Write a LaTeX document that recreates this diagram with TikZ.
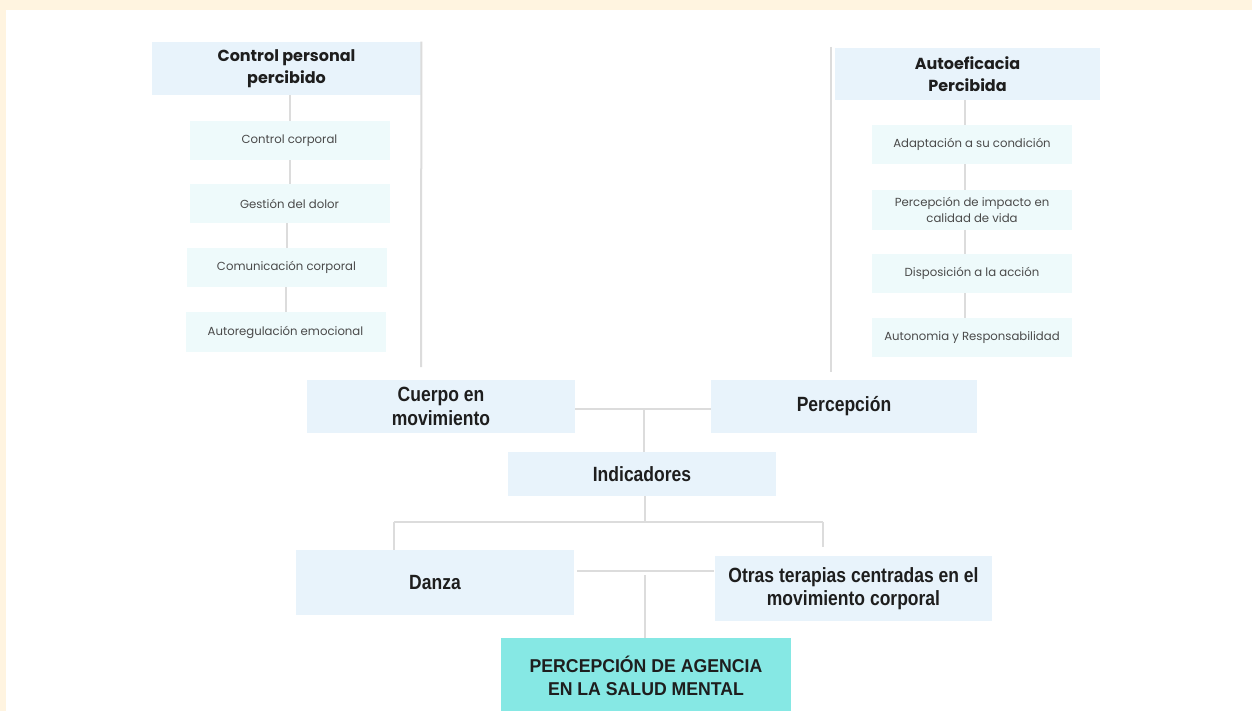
\documentclass[tikz,border=0pt]{standalone}
\usepackage{fontspec}
\setmainfont{Poppins}
\newfontfamily\condf[FakeStretch=0.85]{Liberation Sans}
\newfontfamily\capf[FakeStretch=0.95]{Liberation Sans}
\newfontfamily\popf{Poppins}
\definecolor{cream}{HTML}{FFF4E0}
\definecolor{hdrblue}{HTML}{E8F3FB}
\definecolor{subcyan}{HTML}{EEFAFB}
\definecolor{teal}{HTML}{86E8E4}
\definecolor{linegray}{HTML}{DCDCDC}
\definecolor{txtdark}{HTML}{1E1E1E}
\definecolor{txtgray}{HTML}{4A4A4A}
\begin{document}
\begin{tikzpicture}[x=0.5pt,y=-0.5pt,
  hdr/.style={fill=hdrblue,inner sep=0pt,align=center,text=txtdark,
    font=\popf\bfseries\fontsize{8}{11}\selectfont},
  sub/.style={fill=subcyan,inner sep=0pt,align=center,text=txtgray,
    minimum width=100pt,font=\popf\fontsize{5.85}{8}\selectfont},
  mid/.style={fill=hdrblue,inner sep=0pt,align=center,text=txtdark,
    font=\condf\bfseries\fontsize{10.3}{11.8}\selectfont},
  conn/.style={draw=linegray,line width=1pt}]
\useasboundingbox (0,0) rectangle (1252,711);
\clip (0,0) rectangle (1252,711);
\fill[white] (0,0) rectangle (1252,711);
\fill[cream] (0,0) rectangle (1252,10);
\fill[cream] (0,0) rectangle (6,711);
% left group
\node[hdr,minimum width=134.5pt,minimum height=26.5pt] (cpp) at (286.5,68.5) {Control personal\\percibido};
\node[sub,minimum height=19.5pt] (cc) at (289.5,140.5) {Control corporal};
\node[sub,minimum height=19.5pt] (gd) at (289.5,203.5) {Gestión del dolor};
\node[sub,minimum height=19.5pt] (com) at (286.5,267.5) {Comunicación corporal};
\node[sub,minimum height=20pt] (aut) at (285.5,332) {Autoregulación emocional};
\coordinate (lv) at (421,367);
% right group
\node[hdr,minimum width=132.5pt,minimum height=26pt] (ap) at (967.5,74) {Autoeficacia\\Percibida};
\node[sub,minimum height=19.5pt] (ad) at (972,144.5) {Adaptación a su condición};
\node[sub,minimum height=20pt] (pi) at (972,210) {Percepción de impacto en\\calidad de vida};
\node[sub,minimum height=19.5pt] (di) at (972,273.5) {Disposición a la acción};
\node[sub,minimum height=19.5pt] (au) at (972,337.5) {Autonomia y Responsabilidad};
\coordinate (rvt) at (831,47);
\coordinate (rvb) at (831,372);
% middle
\node[mid,minimum width=134pt,minimum height=26.5pt] (cm) at (441,406.5) {Cuerpo en\\movimiento};
\node[mid,minimum width=133pt,minimum height=26.5pt] (pe) at (844,406.5) {Percepción};
\node[mid,minimum width=134pt,minimum height=22pt] (ind) at (642,474) {Indicadores};
\node[mid,minimum width=139pt,minimum height=32.5pt] (da) at (435,582.5) {Danza};
\node[mid,minimum width=138.5pt,minimum height=32.5pt] (ot) at (853.5,588.5) {Otras terapias centradas en el\\movimiento corporal};
\node[fill=teal,inner sep=0pt,align=center,text=txtdark,minimum width=145pt,minimum height=38pt,
  font=\capf\bfseries\fontsize{9.3}{11.6}\selectfont] (pa) at (646,676) {PERCEPCIÓN DE AGENCIA\\EN LA SALUD MENTAL};
\coordinate (hb) at (645,522);
\coordinate (dl) at (394,522);
\coordinate (dr) at (823,522);
\coordinate (otb) at (823,547);
\coordinate (h2l) at (577,571);
\coordinate (h2r) at (714,571);
\coordinate (h2m) at (645,575);
% connectors
\draw[conn] (cpp.north east) -- (lv);
\draw[conn] (cpp.south -| cc.north) -- (cc.north);
\draw[conn] (cc.south) -- (gd.north);
\draw[conn] (gd.south -| com.north) -- (com.north);
\draw[conn] (com.south -| aut.north) -- (aut.north);
\draw[conn] (rvt) -- (rvb);
\draw[conn] (ap.south -| 965,0) -- (ad.north -| 965,0);
\draw[conn] (ad.south -| 965,0) -- (pi.north -| 965,0);
\draw[conn] (pi.south -| 965,0) -- (di.north -| 965,0);
\draw[conn] (di.south -| 965,0) -- (au.north -| 965,0);
\draw[conn] (cm.east |- 0,409) -- (pe.west |- 0,409);
\draw[conn] (644,409) -- (ind.north -| 644,0);
\draw[conn] (ind.south -| hb) -- (hb);
\draw[conn] (dl) -- (dr);
\draw[conn] (dl) -- (da.north -| dl);
\draw[conn] (dr) -- (otb);
\draw[conn] (h2l) -- (h2r);
\draw[conn] (h2m) -- (pa.north -| h2m);
\end{tikzpicture}
\end{document}
